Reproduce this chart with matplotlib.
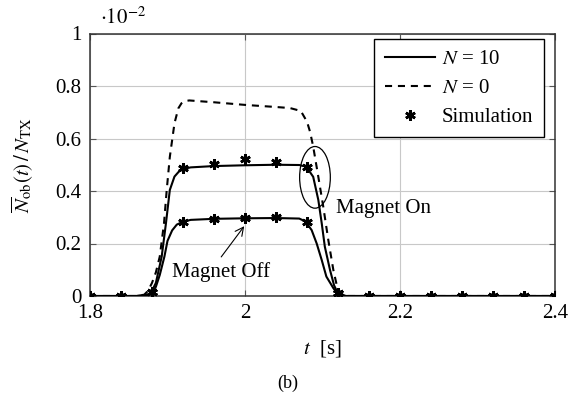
import matplotlib
matplotlib.use("Agg")
import matplotlib.pyplot as plt
from matplotlib.patches import Ellipse

plt.rcParams['font.family'] = ['Liberation Serif', 'DejaVu Serif']
plt.rcParams['mathtext.fontset'] = 'stix'

# ---- data (values in units of 1e-2) ----
t_n0 = [1.80, 1.86, 1.87, 1.875, 1.88, 1.885, 1.890, 1.8955, 1.899, 1.903, 1.909, 1.914, 1.918,
        1.922, 1.928, 1.96, 2.00, 2.04, 2.058, 2.072, 2.080, 2.084, 2.088, 2.0946, 2.101,
        2.1075, 2.114, 2.12, 2.13, 2.40]
v_n0 = [0.0, 0.0, 0.005, 0.02, 0.05, 0.09, 0.15, 0.277, 0.404, 0.53, 0.658, 0.715, 0.734,
        0.742, 0.745, 0.738, 0.728, 0.72, 0.716, 0.705, 0.664, 0.625, 0.569, 0.454, 0.34,
        0.213, 0.099, 0.02, 0.0, 0.0]

t_on = [1.80, 1.86, 1.875, 1.88, 1.885, 1.8925, 1.898, 1.903, 1.909, 1.915, 1.92, 1.93, 1.96,
        2.00, 2.04, 2.07, 2.077, 2.082, 2.088, 2.0946, 2.099, 2.103, 2.1097, 2.115, 2.12,
        2.13, 2.40]
v_on = [0.0, 0.0, 0.005, 0.02, 0.05, 0.15, 0.277, 0.404, 0.455, 0.475, 0.484, 0.49, 0.495,
        0.498, 0.5, 0.499, 0.494, 0.48, 0.454, 0.366, 0.277, 0.188, 0.099, 0.04, 0.01,
        0.0, 0.0]

t_off = [1.80, 1.86, 1.875, 1.88, 1.885, 1.890, 1.896, 1.900, 1.906, 1.912, 1.92, 1.93, 1.96,
         2.00, 2.04, 2.07, 2.078, 2.086, 2.0925, 2.099, 2.105, 2.114, 2.12, 2.13, 2.40]
v_off = [0.0, 0.0, 0.004, 0.012, 0.035, 0.08, 0.15, 0.21, 0.25, 0.272, 0.283, 0.29, 0.294,
         0.296, 0.297, 0.295, 0.284, 0.251, 0.2, 0.137, 0.074, 0.03, 0.005, 0.0, 0.0]

t_sim = [1.80, 1.84, 1.88, 1.92, 1.96, 2.00, 2.04, 2.08, 2.12, 2.16, 2.20, 2.24, 2.28, 2.32, 2.36, 2.40]
sim_on = [0.0, 0.0, 0.016, 0.486, 0.503, 0.521, 0.51, 0.493, 0.01, 0.0, 0.0, 0.0, 0.0, 0.0, 0.0, 0.0]
sim_off = [0.0, 0.0, 0.016, 0.283, 0.292, 0.296, 0.30, 0.281, 0.01, 0.0, 0.0, 0.0, 0.0, 0.0, 0.0, 0.0]

xticks = [1.8, 2.0, 2.2, 2.4]
xticklabels = ['1.8', '2', '2.2', '2.4']
yticks = [0, 0.2, 0.4, 0.6, 0.8, 1.0]
yticklabels = ['0', '0.2', '0.4', '0.6', '0.8', '1']

FS = 15
fig = plt.figure(figsize=(5.69, 3.98), dpi=100)
ax = fig.add_axes([90/569, (398-296)/398, 465/569, 262.5/398])

lw = 1.5
dash = (3.4, 2.8)
ax.plot(t_n0, v_n0, color='black', lw=lw, dashes=dash, zorder=3)
ax.plot(t_on, v_on, color='black', lw=lw, zorder=4)
ax.plot(t_off, v_off, color='black', lw=lw, zorder=4)
star = (6, 2, 0)
mk = dict(ls='none', marker=star, ms=7.5, mew=1.9, color='black')
ax.plot(t_sim, sim_on, zorder=5, **mk)
ax.plot(t_sim, sim_off, zorder=5, **mk)

# legend handles
h1, = ax.plot([], [], color='black', lw=lw, label='$N$ = 10')
h2, = ax.plot([], [], color='black', lw=lw, dashes=dash, label='$N$ = 0')
h3, = ax.plot([], [], label='Simulation', **mk)
leg = ax.legend(handles=[h1, h2, h3], loc='upper right', fontsize=FS, frameon=True,
                fancybox=False, edgecolor='black', framealpha=1, borderpad=0.5,
                handlelength=2.4, handletextpad=0.35, labelspacing=0.45,
                borderaxespad=0, bbox_to_anchor=(1 - 11/465, 1 - 5.5/262.5))
leg.get_frame().set_linewidth(1.0)

ax.add_patch(Ellipse((2.0903, 0.452), 0.0396, 0.235, fill=False, ec='black', lw=0.9, zorder=6))
ax.text(2.117, 0.335, 'Magnet On', fontsize=FS, va='center', ha='left')
ax.annotate('Magnet Off', xy=(1.999, 0.266), xytext=(1.906, 0.092), fontsize=FS,
            va='center', ha='left',
            arrowprops=dict(arrowstyle='->', color='black', lw=0.8, shrinkA=0, shrinkB=0,
                            relpos=(0.5, 1.25)))

ax.set_xlim(1.8, 2.4)
ax.set_ylim(0, 1)
ax.set_xticks(xticks)
ax.set_xticklabels(xticklabels)
ax.set_yticks(yticks)
ax.set_yticklabels(yticklabels)
ax.tick_params(direction='in', length=4, width=0.8, color='#555555', labelsize=FS,
               top=True, right=True, pad=6)
ax.grid(True, color='#c8c8c8', lw=0.8)
ax.set_axisbelow(True)
for s in ax.spines.values():
    s.set_color('#333333')
    s.set_linewidth(1.1)

ax.set_ylabel(r'$\overline{N}_{\mathrm{ob}}(t)\,/\,N_{\mathrm{TX}}$', fontsize=FS)
ax.yaxis.set_label_coords(-0.118, 0.5)
ax.set_xlabel(r'$t$  [s]', fontsize=FS)
ax.xaxis.set_label_coords(0.5, -0.16)

fig.text(100/569, 1 - 18/398, r'$\cdot 10^{-2}$', fontsize=FS, ha='left', va='center')
fig.text(288/569, 1 - 383/398, '(b)', fontsize=13, ha='center', va='center')

fig.savefig('out.png', dpi=100)
